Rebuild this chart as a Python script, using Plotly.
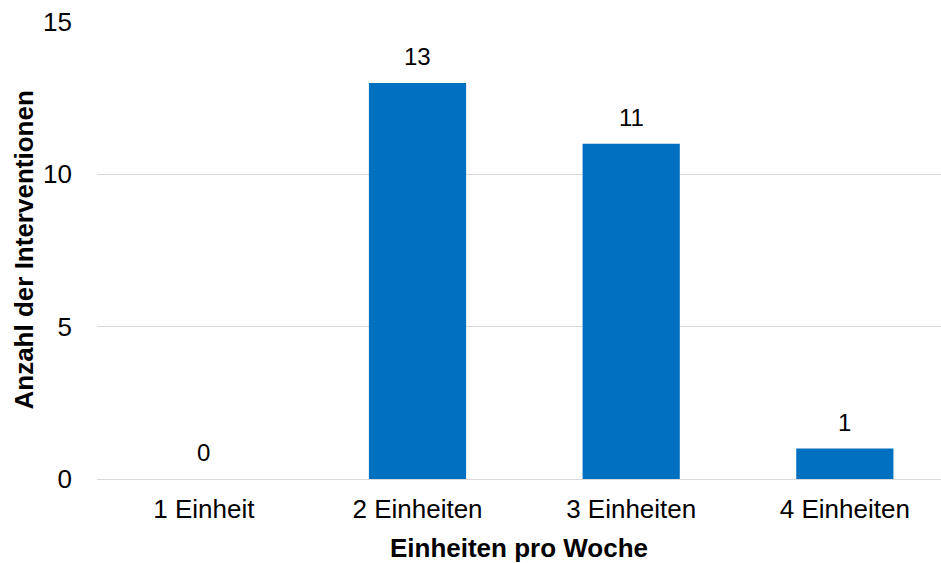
import plotly.graph_objects as go

categories = ["1 Einheit", "2 Einheiten", "3 Einheiten", "4 Einheiten"]
values = [0, 13, 11, 1]
y_ticks = [0, 5, 10, 15]

FONT = "Liberation Sans, Arial, sans-serif"

fig = go.Figure()
fig.add_trace(go.Bar(
    x=categories, y=values,
    marker=dict(color="#0070C0", line=dict(width=0)),
    width=0.455,
    hoverinfo="skip",
))

for c, v in zip(categories, values):
    fig.add_annotation(x=c, y=v, text=str(v), showarrow=False,
                       yanchor="bottom", yshift=11,
                       font=dict(family=FONT, size=24, color="#000000"))

fig.add_annotation(text="<b>Anzahl der Interventionen</b>", textangle=-90,
                   xref="paper", yref="paper", x=0, y=0.5,
                   xanchor="center", yanchor="middle", xshift=-74,
                   showarrow=False, font=dict(family=FONT, size=26, color="#000000"))

fig.update_layout(
    width=941, height=563,
    margin=dict(l=97, r=0, t=22, b=84),
    paper_bgcolor="white", plot_bgcolor="white",
    showlegend=False,
    font=dict(family=FONT, color="#000000"),
    xaxis=dict(
        type="category",
        range=[-0.5, 3.45],
        showgrid=False,
        showline=False,
        zeroline=False,
        ticks="",
        tickfont=dict(size=26),
        ticklabelstandoff=12,
        title=dict(text="<b>Einheiten pro Woche</b>", font=dict(size=26), standoff=15),
    ),
    yaxis=dict(
        range=[0, 15],
        tickvals=y_ticks,
        showgrid=True, gridcolor="#D9D9D9", gridwidth=1,
        zeroline=True, zerolinecolor="#D9D9D9", zerolinewidth=1,
        showline=False,
        ticks="",
        tickfont=dict(size=26),
        ticklabelstandoff=24,
    ),
)

fig.write_html("out.html")
